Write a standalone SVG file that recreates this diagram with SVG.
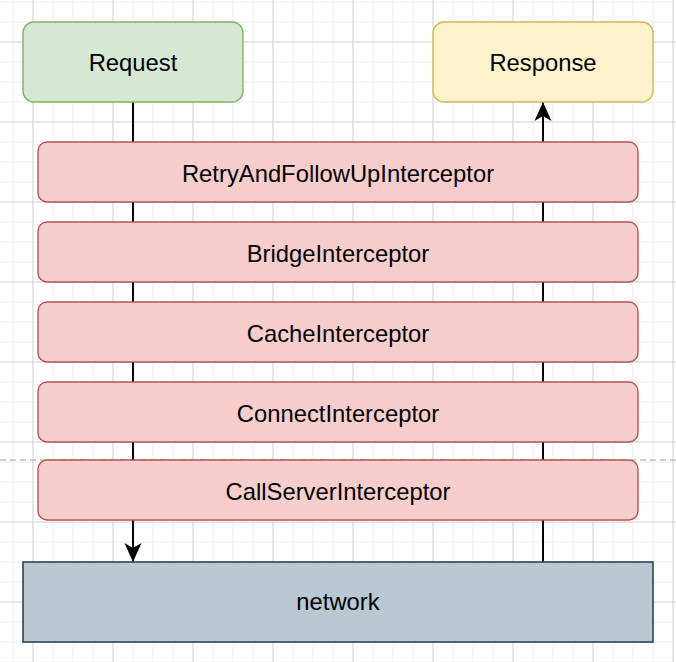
<svg xmlns="http://www.w3.org/2000/svg" width="676" height="662" viewBox="0 0 676 662">
  <style>
    .lbl { font-family: "Liberation Sans", Arial, Helvetica, sans-serif; font-size: 23.8px; fill: #000; text-anchor: middle; }
    .icp { fill: #f8cecc; stroke: #b85450; stroke-width: 1.4; }
    .conn { stroke: #000; stroke-width: 2; fill: none; }
  </style>
  <defs>
    <pattern id="minor" x="12.5" y="1.5" width="20" height="20" patternUnits="userSpaceOnUse">
      <path d="M0.5,0 V20 M0,0.5 H20" stroke="#efefef" stroke-width="1" fill="none"/>
    </pattern>
    <pattern id="major" x="32.5" y="41.5" width="80" height="80" patternUnits="userSpaceOnUse">
      <path d="M0.5,0 V80 M0,0.5 H80" stroke="#d4d4d4" stroke-width="1" fill="none"/>
    </pattern>
    <marker id="arrow" markerUnits="userSpaceOnUse" markerWidth="20" markerHeight="18" refX="19" refY="8.5" orient="auto" overflow="visible">
      <path d="M19,8.5 L0,0 L5,8.5 L0,17 Z" fill="#000"/>
    </marker>
  </defs>

  <g id="background">
    <rect width="676" height="662" fill="#ffffff"/>
    <rect width="676" height="662" fill="url(#minor)"/>
    <rect width="676" height="662" fill="url(#major)"/>
    <line x1="0" y1="460" x2="676" y2="460" stroke="#c0c0c0" stroke-width="1.5" stroke-dasharray="6 4"/>
  </g>

  <g id="connectors">
    <path class="conn" d="M133,102 V562" marker-end="url(#arrow)"/>
    <path class="conn" d="M543,562 V102" marker-end="url(#arrow)"/>
  </g>

  <g id="request">
    <rect x="23" y="22" width="220" height="80" rx="11" fill="#d5e8d4" stroke="#82b366" stroke-width="1.4"/>
    <text class="lbl" x="133" y="71">Request</text>
  </g>
  <g id="response">
    <rect x="433" y="22" width="220" height="80" rx="11" fill="#fff2cc" stroke="#d6b656" stroke-width="1.4"/>
    <text class="lbl" x="543" y="71">Response</text>
  </g>

  <g id="retry">
    <rect class="icp" x="38" y="142" width="600" height="60" rx="9"/>
    <text class="lbl" x="338" y="181.5">RetryAndFollowUpInterceptor</text>
  </g>
  <g id="bridge">
    <rect class="icp" x="38" y="222" width="600" height="60" rx="9"/>
    <text class="lbl" x="338" y="261.5">BridgeInterceptor</text>
  </g>
  <g id="cache">
    <rect class="icp" x="38" y="302" width="600" height="60" rx="9"/>
    <text class="lbl" x="338" y="341.5">CacheInterceptor</text>
  </g>
  <g id="connect">
    <rect class="icp" x="38" y="382" width="600" height="60" rx="9"/>
    <text class="lbl" x="338" y="421.5">ConnectInterceptor</text>
  </g>
  <g id="callserver">
    <rect class="icp" x="38" y="460" width="600" height="60" rx="9"/>
    <text class="lbl" x="338" y="499.5">CallServerInterceptor</text>
  </g>

  <g id="network">
    <rect x="23" y="562" width="630" height="80" fill="#bac8d3" stroke="#23445d" stroke-width="1.6"/>
    <text class="lbl" x="338" y="610">network</text>
  </g>
</svg>
